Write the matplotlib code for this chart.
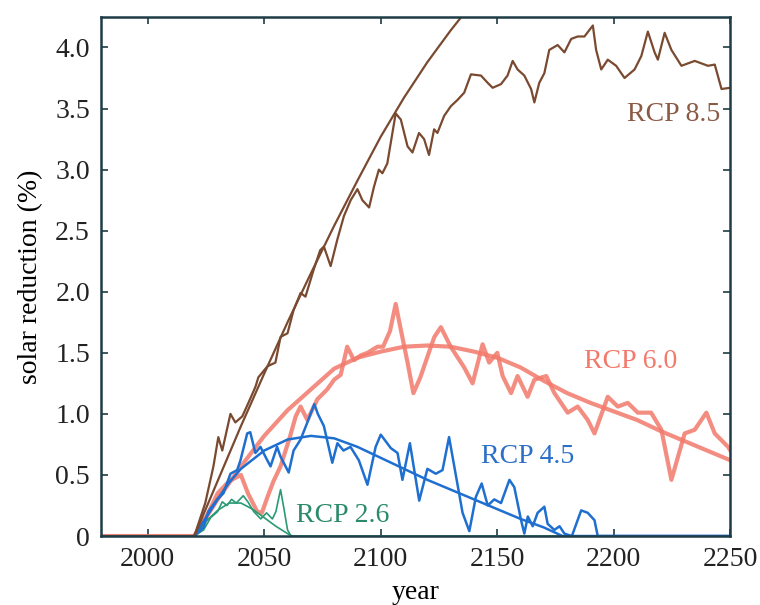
import matplotlib
matplotlib.use("Agg")
import matplotlib.pyplot as plt

plt.rcParams['font.family'] = 'serif'
plt.rcParams['font.serif'] = ['Liberation Serif', 'DejaVu Serif']

# RCP 8.5 (brown)
rcp85_years = [1980, 2020, 2024.7, 2028.2, 2030.3, 2032, 2035.5, 2037.6, 2040.6, 2043.2,
               2046.2, 2047.5, 2051.4, 2054.8, 2057, 2060, 2062.6, 2065.6, 2067.7, 2071.2,
               2074, 2075.6, 2078.5, 2081.4, 2084.2, 2087.1, 2090, 2092.1, 2095, 2097.1,
               2099.2, 2100.7, 2102.8, 2105, 2106.4, 2108.6, 2111.5, 2113.6, 2116.4, 2118.6,
               2120.7, 2122.9, 2124.3, 2127.2, 2130.1, 2132.9, 2135.8, 2138.7, 2143, 2145.9,
               2148, 2151.6, 2154.4, 2156.6, 2158.7, 2161.6, 2164.5, 2165.9, 2168, 2170.2,
               2172.3, 2175.9, 2178.8, 2181.7, 2184.5, 2187.4, 2191, 2192.4, 2194.6, 2197.4,
               2201, 2204.6, 2208.9, 2211.8, 2214.6, 2217.5, 2218.9, 2221.8, 2224.7, 2229,
               2234.7, 2240.4, 2243.3, 2246.2, 2250]
rcp85_vals = [0, 0, 0.27, 0.57, 0.81, 0.70, 1.0, 0.93, 0.98, 1.09,
              1.22, 1.30, 1.39, 1.42, 1.63, 1.66, 1.85, 1.99, 1.96, 2.18,
              2.34, 2.37, 2.21, 2.43, 2.62, 2.75, 2.84, 2.75, 2.69, 2.86,
              3.0, 2.97, 3.05, 3.30, 3.46, 3.41, 3.19, 3.14, 3.30, 3.25,
              3.12, 3.33, 3.30, 3.44, 3.52, 3.57, 3.63, 3.78, 3.77, 3.71,
              3.67, 3.70, 3.77, 3.89, 3.82, 3.77, 3.66, 3.55, 3.71, 3.79,
              3.98, 4.02, 3.96, 4.07, 4.09, 4.09, 4.18, 3.98, 3.82, 3.90,
              3.85, 3.75, 3.82, 3.93, 4.13, 3.96, 3.90, 4.12, 3.98, 3.85,
              3.89, 3.85, 3.86, 3.66, 3.67]
rcp85_fit_years = [2020, 2030, 2040, 2050, 2060, 2070, 2080, 2090, 2100, 2110, 2120, 2130, 2140]
rcp85_fit_vals = [0, 0.45, 0.9, 1.33, 1.75, 2.15, 2.54, 2.91, 3.27, 3.59, 3.88, 4.14, 4.38]

# RCP 6.0 (salmon)
rcp60_years = [1980, 2020, 2025, 2030, 2035, 2040, 2043, 2047, 2049, 2051.4,
               2054, 2057, 2061, 2063.5, 2065.6, 2068.5, 2072.8, 2077, 2080, 2082.8,
               2085.6, 2088.5, 2091.5, 2094.3, 2098.6, 2101, 2104, 2106.4, 2108.6, 2111.5,
               2114, 2117, 2121.5, 2123, 2125.8, 2130, 2135.8, 2139.4, 2143.7, 2146.5,
               2150, 2152.3, 2155.9, 2158.7, 2163, 2165.9, 2171, 2174.5, 2180.2, 2184.5,
               2188.8, 2191.7, 2197.4, 2201.7, 2206, 2210.3, 2216, 2220.4, 2224.7, 2230.4,
               2234.7, 2239.7, 2243.3, 2249, 2250]
rcp60_vals = [0, 0, 0.15, 0.35, 0.45, 0.5, 0.35, 0.2, 0.19, 0.32,
              0.45, 0.57, 0.81, 0.98, 1.06, 0.95, 1.12, 1.2, 1.28, 1.32,
              1.55, 1.44, 1.48, 1.50, 1.55, 1.55, 1.68, 1.9, 1.69, 1.42,
              1.17, 1.30, 1.55, 1.63, 1.71, 1.55, 1.38, 1.25, 1.57, 1.42,
              1.50, 1.31, 1.17, 1.31, 1.14, 1.28, 1.31, 1.17, 1.01, 1.06,
              0.95, 0.84, 1.14, 1.06, 1.09, 1.01, 1.01, 0.87, 0.46, 0.84,
              0.87, 1.01, 0.84, 0.73, 0.70]
rcp60_fit_years = [2020, 2030, 2040, 2050, 2060, 2070, 2080, 2090, 2100, 2110, 2120, 2130,
                   2140, 2150, 2160, 2170, 2180, 2190, 2200, 2210, 2220, 2230, 2240, 2250]
rcp60_fit_vals = [0, 0.3, 0.57, 0.82, 1.03, 1.2, 1.37, 1.46, 1.51, 1.55, 1.56, 1.55,
                  1.51, 1.46, 1.38, 1.27, 1.17, 1.09, 1.02, 0.95, 0.86, 0.78, 0.70, 0.62]

# RCP 4.5 (blue)
rcp45_years = [2020, 2024, 2026, 2029.8, 2032.5, 2035.5, 2038.4, 2039.8, 2042.7, 2044,
               2046.2, 2048.4, 2050.5, 2052.7, 2055.5, 2057, 2060.5, 2062.6, 2065.6, 2068.5,
               2071.5, 2073, 2075.6, 2079.2, 2081.4, 2084, 2087, 2090.6, 2094.3, 2097.8,
               2100, 2104.3, 2107.2, 2109.3, 2112.5, 2116.5, 2120, 2123.6, 2126.5, 2129.3,
               2132.2, 2135.1, 2138, 2140.8, 2143.3, 2145.9, 2148.7, 2151.6, 2155.2, 2157.3,
               2160.2, 2161.6, 2163.1, 2165.2, 2167.3, 2170.2, 2171.6, 2174.5, 2176.7, 2178.8,
               2182, 2186, 2188.8, 2191.7, 2193.1, 2250]
rcp45_vals = [0, 0.07, 0.2, 0.30, 0.35, 0.51, 0.54, 0.62, 0.84, 0.85,
              0.68, 0.73, 0.65, 0.57, 0.73, 0.65, 0.52, 0.70, 0.79, 0.93,
              1.08, 1.0, 0.90, 0.60, 0.76, 0.70, 0.73, 0.62, 0.42, 0.73,
              0.83, 0.72, 0.68, 0.46, 0.76, 0.29, 0.55, 0.51, 0.54, 0.81,
              0.50, 0.19, 0.04, 0.32, 0.43, 0.25, 0.30, 0.27, 0.46, 0.40,
              0.13, 0.02, 0.16, 0.08, 0.19, 0.24, 0.10, 0.05, 0.08, 0.02,
              0.0, 0.21, 0.19, 0.13, 0.0, 0.0]
rcp45_fit_years = [2020, 2030, 2035, 2040, 2050, 2060, 2070, 2080, 2090, 2100, 2110,
                   2120, 2130, 2140, 2150, 2160, 2170, 2178, 2250]
rcp45_fit_vals = [0, 0.3, 0.44, 0.55, 0.7, 0.79, 0.82, 0.8, 0.73, 0.64, 0.55,
                  0.46, 0.38, 0.3, 0.22, 0.14, 0.07, 0.0, 0.0]

# RCP 2.6 (green)
rcp26_years = [2020, 2024, 2027, 2030, 2032, 2034, 2036, 2038, 2041, 2043,
               2045.5, 2048.5, 2051, 2053.5, 2055, 2057, 2058.5, 2060, 2061.5, 2180]
rcp26_vals = [0, 0.05, 0.15, 0.2, 0.28, 0.25, 0.3, 0.27, 0.33, 0.28,
              0.2, 0.14, 0.19, 0.14, 0.2, 0.38, 0.22, 0.05, 0, 0]
rcp26_fit_years = [2020, 2025, 2030, 2035, 2040, 2045, 2050, 2055, 2060, 2062]
rcp26_fit_vals = [0, 0.12, 0.21, 0.27, 0.27, 0.22, 0.15, 0.08, 0.02, 0]

y_ticks = [0, 0.5, 1.0, 1.5, 2.0, 2.5, 3.0, 3.5, 4.0]
y_ticklabels = ['0', '0.5', '1.0', '1.5', '2.0', '2.5', '3.0', '3.5', '4.0']
x_ticks = [2000, 2050, 2100, 2150, 2200, 2250]

brown = '#7a4a30'
salmon = '#f2796b'
blue = '#1f6fd0'
green = '#2a9a72'

fig = plt.figure(figsize=(7.6, 6.05), dpi=100)
ax = fig.add_axes([0.133, 0.114, 0.828, 0.858])

ax.plot(rcp60_years, rcp60_vals, color=salmon, lw=3.0, alpha=0.85, solid_joinstyle='round')
ax.plot(rcp60_fit_years, rcp60_fit_vals, color=salmon, lw=3.0, alpha=0.85)
ax.plot(rcp26_years, rcp26_vals, color=green, lw=1.2)
ax.plot(rcp26_fit_years, rcp26_fit_vals, color=green, lw=1.2)
ax.plot(rcp45_years, rcp45_vals, color=blue, lw=1.8)
ax.plot(rcp45_fit_years, rcp45_fit_vals, color=blue, lw=1.8)
ax.plot(rcp85_years, rcp85_vals, color=brown, lw=1.6)
ax.plot(rcp85_fit_years, rcp85_fit_vals, color=brown, lw=1.6)

txt = dict(fontsize=20, ha='center', va='center')
ax.text(2225.5, 3.45, 'RCP 8.5', color='#8a5a45', **txt)
ax.text(2207, 1.43, 'RCP 6.0', color=salmon, **txt)
ax.text(2163, 0.65, 'RCP 4.5', color='#2a6fc8', **txt)
ax.text(2083.5, 0.17, 'RCP 2.6', color='#2a8a6a', **txt)

ax.set_xlim(1980, 2250)
ax.set_ylim(0, 4.25)
ax.set_xticks(x_ticks)
ax.set_yticks(y_ticks)
ax.set_yticklabels(y_ticklabels)
ax.tick_params(direction='in', length=5, width=1.2, top=True, right=True,
               labelsize=20, colors='#1d3c46', labelcolor='#222222', pad=8)
for s in ax.spines.values():
    s.set_color('#1d3c46')
    s.set_linewidth(1.8)

ax.set_xlabel('year', fontsize=20, labelpad=6)
ax.set_ylabel('solar reduction (%)', fontsize=20, labelpad=9)

fig.savefig('out.png', dpi=100)
